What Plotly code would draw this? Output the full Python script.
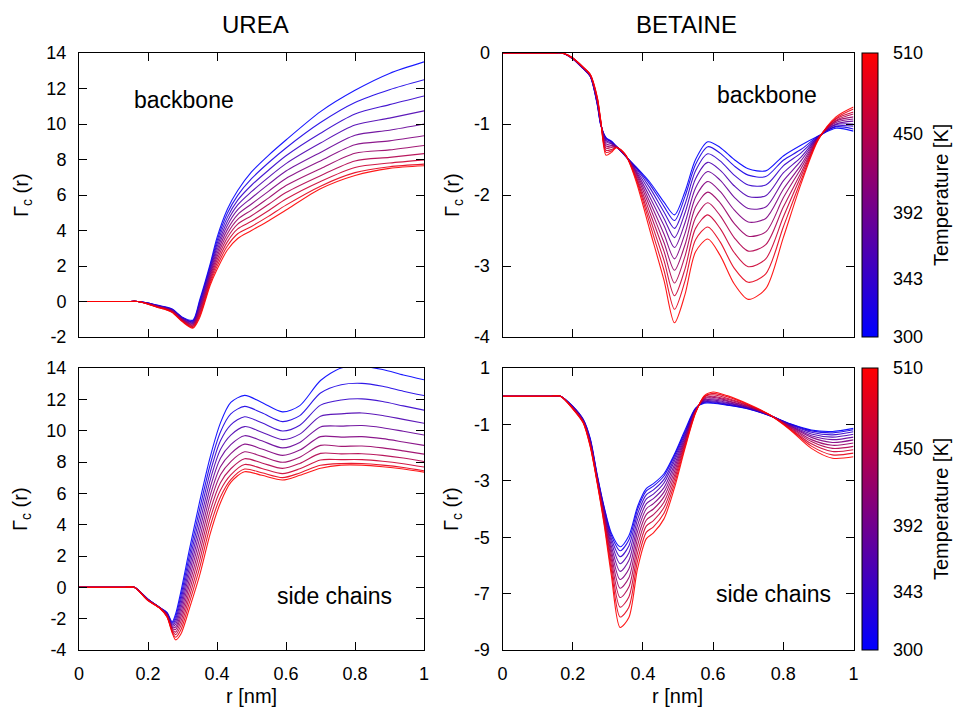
import plotly.graph_objects as go

# Temperatures of the plotted replicas [K]
TEMPS = [300, 321, 342, 363, 384, 405, 426, 447, 468, 489, 510]

# ---------------- UREA, backbone (rows: r value, columns: TEMPS) ----------------
UREA_BB_R = [0, 0.08, 0.14, 0.17, 0.2, 0.23, 0.25, 0.27, 0.3, 0.33, 0.35, 0.38, 0.4, 0.43, 0.46,
             0.5, 0.55, 0.6, 0.7, 0.8, 0.9, 1.0]
UREA_BB = [
    [0] * 11,
    [0] * 11,
    [0] * 11,
    [0] * 11,
    [-0.08, -0.09, -0.09, -0.10, -0.11, -0.12, -0.12, -0.13, -0.14, -0.14, -0.15],
    [-0.22, -0.23, -0.25, -0.26, -0.27, -0.29, -0.30, -0.31, -0.32, -0.34, -0.35],
    [-0.30, -0.32, -0.33, -0.35, -0.36, -0.38, -0.39, -0.41, -0.42, -0.44, -0.45],
    [-0.42, -0.44, -0.46, -0.48, -0.50, -0.52, -0.54, -0.56, -0.58, -0.60, -0.62],
    [-0.88, -0.91, -0.93, -0.96, -0.99, -1.02, -1.04, -1.07, -1.10, -1.12, -1.15],
    [-1.05, -1.10, -1.14, -1.19, -1.23, -1.28, -1.32, -1.37, -1.41, -1.46, -1.50],
    [0.10, 0.00, -0.10, -0.20, -0.30, -0.40, -0.50, -0.60, -0.70, -0.80, -0.90],
    [2.10, 1.98, 1.86, 1.74, 1.62, 1.50, 1.38, 1.26, 1.14, 1.02, 0.90],
    [3.60, 3.42, 3.24, 3.06, 2.88, 2.70, 2.52, 2.34, 2.16, 1.98, 1.80],
    [5.20, 4.97, 4.74, 4.51, 4.28, 4.05, 3.82, 3.59, 3.36, 3.13, 2.90],
    [6.25, 5.98, 5.71, 5.44, 5.17, 4.90, 4.63, 4.36, 4.09, 3.82, 3.55],
    [7.30, 6.92, 6.55, 6.19, 5.83, 5.49, 5.15, 4.83, 4.52, 4.23, 4.00],
    [8.25, 7.83, 7.41, 7.01, 6.61, 6.22, 5.84, 5.48, 5.13, 4.81, 4.55],
    [9.10, 8.65, 8.21, 7.77, 7.35, 6.93, 6.53, 6.14, 5.77, 5.43, 5.15],
    [10.70, 10.08, 9.48, 8.93, 8.40, 7.92, 7.48, 7.09, 6.76, 6.50, 6.35],
    [11.90, 11.21, 10.56, 9.94, 9.37, 8.83, 8.35, 7.92, 7.55, 7.26, 7.10],
    [12.85, 11.93, 11.09, 10.33, 9.65, 9.05, 8.54, 8.12, 7.80, 7.59, 7.50],
    [13.50, 12.49, 11.58, 10.74, 10.00, 9.34, 8.79, 8.33, 7.98, 7.74, 7.65],
]

# ---------------- BETAINE, backbone ----------------
BET_BB_R = [0, 0.08, 0.14, 0.17, 0.2, 0.23, 0.25, 0.27, 0.28, 0.295, 0.31, 0.325, 0.35, 0.38,
            0.42, 0.46, 0.49, 0.52, 0.55, 0.585, 0.62, 0.66, 0.70, 0.75, 0.80, 0.85, 0.90,
            0.95, 1.0]
BET_BB = [
    [0] * 11,
    [0] * 11,
    [0] * 11,
    [0] * 11,
    [-0.08, -0.08, -0.08, -0.08, -0.08, -0.08, -0.07, -0.07, -0.07, -0.07, -0.07],
    [-0.22, -0.22, -0.22, -0.21, -0.21, -0.21, -0.21, -0.21, -0.20, -0.20, -0.20],
    [-0.33, -0.33, -0.32, -0.32, -0.32, -0.32, -0.31, -0.31, -0.31, -0.30, -0.30],
    [-0.73, -0.72, -0.71, -0.70, -0.69, -0.68, -0.67, -0.65, -0.64, -0.63, -0.62],
    [-1.02, -1.01, -1.01, -1.00, -0.99, -0.99, -0.98, -0.97, -0.97, -0.96, -0.95],
    [-1.19, -1.20, -1.21, -1.23, -1.25, -1.28, -1.31, -1.34, -1.37, -1.40, -1.44],
    [-1.24, -1.25, -1.25, -1.27, -1.28, -1.30, -1.31, -1.33, -1.36, -1.38, -1.40],
    [-1.32, -1.32, -1.32, -1.32, -1.32, -1.32, -1.33, -1.33, -1.33, -1.33, -1.33],
    [-1.45, -1.45, -1.45, -1.45, -1.44, -1.44, -1.44, -1.44, -1.43, -1.43, -1.43],
    [-1.60, -1.61, -1.62, -1.64, -1.66, -1.68, -1.70, -1.73, -1.75, -1.77, -1.80],
    [-1.82, -1.85, -1.90, -1.96, -2.03, -2.10, -2.17, -2.25, -2.33, -2.41, -2.50],
    [-2.10, -2.16, -2.24, -2.33, -2.43, -2.55, -2.67, -2.79, -2.92, -3.06, -3.20],
    [-2.28, -2.36, -2.47, -2.60, -2.74, -2.90, -3.06, -3.24, -3.42, -3.61, -3.80],
    [-1.95, -2.02, -2.13, -2.25, -2.39, -2.54, -2.70, -2.86, -3.04, -3.21, -3.40],
    [-1.50, -1.57, -1.66, -1.77, -1.90, -2.03, -2.17, -2.32, -2.47, -2.63, -2.80],
    [-1.25, -1.32, -1.42, -1.54, -1.67, -1.81, -1.96, -2.11, -2.28, -2.45, -2.62],
    [-1.33, -1.41, -1.52, -1.65, -1.79, -1.95, -2.11, -2.29, -2.47, -2.66, -2.85],
    [-1.50, -1.59, -1.72, -1.87, -2.03, -2.21, -2.40, -2.60, -2.81, -3.03, -3.25],
    [-1.63, -1.72, -1.86, -2.02, -2.19, -2.38, -2.58, -2.79, -3.01, -3.23, -3.47],
    [-1.66, -1.74, -1.86, -2.01, -2.17, -2.33, -2.52, -2.70, -2.90, -3.11, -3.32],
    [-1.45, -1.51, -1.59, -1.69, -1.80, -1.92, -2.04, -2.17, -2.31, -2.45, -2.60],
    [-1.30, -1.36, -1.41, -1.47, -1.52, -1.58, -1.63, -1.69, -1.74, -1.80, -1.85],
    [-1.17, -1.17, -1.18, -1.18, -1.19, -1.19, -1.20, -1.20, -1.21, -1.21, -1.22],
    [-1.06, -1.04, -1.03, -1.01, -1.00, -0.98, -0.96, -0.95, -0.93, -0.92, -0.90],
    [-1.10, -1.07, -1.03, -1.00, -0.96, -0.93, -0.90, -0.86, -0.83, -0.79, -0.76],
]

# ---------------- UREA, side chains ----------------
UREA_SC_R = [0, 0.08, 0.13, 0.16, 0.2, 0.235, 0.255, 0.27, 0.28, 0.295, 0.32, 0.35, 0.38, 0.41,
             0.44, 0.48, 0.53, 0.59, 0.64, 0.70, 0.76, 0.82, 0.88, 0.94, 1.0]
UREA_SC = [
    [0] * 11,
    [0] * 11,
    [0] * 11,
    [0] * 11,
    [-0.75, -0.76, -0.77, -0.78, -0.79, -0.80, -0.81, -0.82, -0.83, -0.84, -0.85],
    [-1.30, -1.30, -1.31, -1.31, -1.32, -1.32, -1.33, -1.33, -1.34, -1.34, -1.35],
    [-1.60, -1.63, -1.66, -1.69, -1.72, -1.75, -1.78, -1.81, -1.84, -1.87, -1.90],
    [-2.20, -2.27, -2.34, -2.41, -2.48, -2.55, -2.62, -2.69, -2.76, -2.83, -2.90],
    [-1.70, -1.87, -2.03, -2.20, -2.36, -2.53, -2.69, -2.86, -3.02, -3.19, -3.35],
    [-0.30, -0.57, -0.84, -1.11, -1.38, -1.65, -1.92, -2.19, -2.46, -2.73, -3.00],
    [2.40, 2.03, 1.65, 1.28, 0.90, 0.53, 0.15, -0.23, -0.60, -0.98, -1.35],
    [5.50, 5.03, 4.56, 4.09, 3.62, 3.15, 2.68, 2.21, 1.74, 1.27, 0.80],
    [8.30, 7.81, 7.32, 6.83, 6.34, 5.85, 5.36, 4.87, 4.38, 3.89, 3.40],
    [10.50, 9.92, 9.35, 8.79, 8.24, 7.70, 7.18, 6.68, 6.20, 5.76, 5.40],
    [11.80, 11.07, 10.37, 9.72, 9.11, 8.54, 8.03, 7.57, 7.18, 6.87, 6.70],
    [12.25, 11.55, 10.89, 10.26, 9.68, 9.14, 8.65, 8.21, 7.84, 7.55, 7.38],
    [11.80, 11.14, 10.50, 9.90, 9.35, 8.83, 8.36, 7.94, 7.59, 7.31, 7.15],
    [11.20, 10.58, 9.98, 9.43, 8.90, 8.42, 7.98, 7.59, 7.26, 7.00, 6.85],
    [11.60, 10.96, 10.35, 9.78, 9.25, 8.76, 8.31, 7.91, 7.57, 7.30, 7.15],
    [13.20, 12.40, 11.63, 10.92, 10.24, 9.62, 9.06, 8.55, 8.13, 7.79, 7.60],
    [14.00, 12.93, 11.96, 11.07, 10.29, 9.59, 9.00, 8.52, 8.15, 7.90, 7.80],
    [14.10, 13.02, 12.03, 11.13, 10.33, 9.62, 9.02, 8.53, 8.15, 7.90, 7.80],
    [13.90, 12.83, 11.86, 10.97, 10.19, 9.49, 8.90, 8.42, 8.05, 7.80, 7.70],
    [13.55, 12.52, 11.58, 10.72, 9.96, 9.28, 8.71, 8.25, 7.89, 7.65, 7.55],
    [13.25, 12.24, 11.31, 10.47, 9.72, 9.06, 8.50, 8.03, 7.68, 7.44, 7.35],
]

# ---------------- BETAINE, side chains ----------------
BET_SC_R = [0, 0.08, 0.135, 0.165, 0.2, 0.23, 0.25, 0.27, 0.29, 0.31, 0.335, 0.36, 0.385, 0.41,
            0.43, 0.46, 0.49, 0.52, 0.55, 0.575, 0.60, 0.64, 0.70, 0.76, 0.82, 0.88, 0.94, 1.0]
BET_SC = [
    [0] * 11,
    [0] * 11,
    [0] * 11,
    [0] * 11,
    [-0.35, -0.36, -0.37, -0.38, -0.39, -0.40, -0.41, -0.42, -0.43, -0.44, -0.45],
    [-0.82, -0.83, -0.85, -0.86, -0.87, -0.89, -0.90, -0.91, -0.92, -0.94, -0.95],
    [-1.50, -1.53, -1.56, -1.59, -1.62, -1.65, -1.68, -1.71, -1.74, -1.77, -1.80],
    [-2.80, -2.83, -2.86, -2.89, -2.92, -2.95, -2.98, -3.01, -3.04, -3.07, -3.10],
    [-3.95, -3.98, -4.03, -4.09, -4.15, -4.21, -4.29, -4.36, -4.44, -4.52, -4.60],
    [-4.85, -4.93, -5.04, -5.16, -5.31, -5.46, -5.62, -5.79, -5.97, -6.16, -6.35],
    [-5.34, -5.48, -5.69, -5.94, -6.21, -6.50, -6.81, -7.14, -7.48, -7.83, -8.20],
    [-4.95, -5.10, -5.31, -5.56, -5.83, -6.13, -6.44, -6.77, -7.12, -7.48, -7.85],
    [-3.90, -4.01, -4.17, -4.36, -4.57, -4.79, -5.03, -5.28, -5.55, -5.82, -6.10],
    [-3.27, -3.36, -3.49, -3.64, -3.81, -3.99, -4.19, -4.39, -4.60, -4.82, -5.05],
    [-3.10, -3.19, -3.32, -3.47, -3.63, -3.81, -4.00, -4.20, -4.41, -4.63, -4.85],
    [-2.75, -2.83, -2.95, -3.08, -3.24, -3.40, -3.57, -3.76, -3.95, -4.15, -4.35],
    [-2.05, -2.11, -2.20, -2.30, -2.42, -2.54, -2.67, -2.81, -2.95, -3.10, -3.25],
    [-1.20, -1.27, -1.33, -1.40, -1.46, -1.53, -1.59, -1.66, -1.72, -1.79, -1.85],
    [-0.42, -0.44, -0.46, -0.47, -0.49, -0.51, -0.53, -0.55, -0.56, -0.58, -0.60],
    [-0.25, -0.22, -0.20, -0.17, -0.14, -0.12, -0.09, -0.06, -0.03, -0.01, 0.02],
    [-0.25, -0.23, -0.20, -0.17, -0.13, -0.09, -0.04, 0.00, 0.05, 0.10, 0.15],
    [-0.32, -0.30, -0.28, -0.25, -0.22, -0.18, -0.15, -0.11, -0.07, -0.02, 0.02],
    [-0.45, -0.44, -0.43, -0.41, -0.40, -0.38, -0.36, -0.34, -0.32, -0.30, -0.28],
    [-0.68, -0.68, -0.68, -0.67, -0.67, -0.67, -0.66, -0.66, -0.66, -0.65, -0.65],
    [-0.98, -0.99, -1.01, -1.03, -1.05, -1.07, -1.09, -1.12, -1.15, -1.17, -1.20],
    [-1.20, -1.23, -1.28, -1.34, -1.40, -1.46, -1.54, -1.61, -1.69, -1.77, -1.85],
    [-1.25, -1.30, -1.37, -1.45, -1.54, -1.64, -1.74, -1.85, -1.96, -2.08, -2.20],
    [-1.14, -1.19, -1.26, -1.35, -1.45, -1.55, -1.66, -1.78, -1.90, -2.02, -2.15],
]

# tick labels
X_TICKS = [0, 0.2, 0.4, 0.6, 0.8, 1]
X_TICKTEXT = ["0", "0.2", "0.4", "0.6", "0.8", "1"]
Y_TICKS_UREA_BB = [-2, 0, 2, 4, 6, 8, 10, 12, 14]
Y_TICKS_BET_BB = [-4, -3, -2, -1, 0]
Y_TICKS_UREA_SC = [-4, -2, 0, 2, 4, 6, 8, 10, 12, 14]
Y_TICKS_BET_SC = [-9, -7, -5, -3, -1, 1]
CBAR_TICKS = [300, 343, 392, 450, 510]

FONT = "Liberation Sans, Arial, sans-serif"
W, H = 955, 711
T_MIN, T_MAX = 300, 510
COLORSCALE = [[0, "rgb(0,0,255)"], [1, "rgb(255,0,0)"]]


def tcolor(t):
    f = (t - T_MIN) / (T_MAX - T_MIN)
    return "rgb(%d,0,%d)" % (round(255 * f), round(255 * (1 - f)))


def lab(v):
    return "%g" % v


fig = go.Figure()
panels = [
    (UREA_BB_R, UREA_BB, "x", "y"),
    (BET_BB_R, BET_BB, "x2", "y2"),
    (UREA_SC_R, UREA_SC, "x3", "y3"),
    (BET_SC_R, BET_SC, "x4", "y4"),
]
for rr, rows, xa, ya in panels:
    for j, t in enumerate(TEMPS):
        fig.add_trace(go.Scatter(
            x=rr, y=[row[j] for row in rows], mode="lines",
            line=dict(color=tcolor(t), width=1.1, shape="spline", smoothing=0.8),
            opacity=0.9, xaxis=xa, yaxis=ya, showlegend=False, hoverinfo="skip"))

CB_X0, CB_THICK = 862, 16
shapes = []
annotations = []


def ann(text, px, py, size, angle=0, xanchor="center"):
    annotations.append(dict(text=text, x=px / W, y=1 - py / H, xref="paper", yref="paper",
                            xanchor=xanchor, yanchor="middle", showarrow=False,
                            textangle=angle, font=dict(family=FONT, size=size, color="black")))


# colour bars (one per row)
for ya, xa, top, bot in [("y2", "x2", 53, 337), ("y4", "x4", 368, 650)]:
    yc = 1 - (top + bot) / 2 / H
    ln = (bot - top) / H
    fig.add_trace(go.Scatter(
        x=[None], y=[None], mode="markers", xaxis=xa, yaxis=ya, showlegend=False,
        marker=dict(color=[T_MIN], cmin=T_MIN, cmax=T_MAX, colorscale=COLORSCALE,
                    showscale=True,
                    colorbar=dict(
                        x=CB_X0 / W, xanchor="left", y=yc, yanchor="middle",
                        len=ln, lenmode="fraction", thickness=CB_THICK,
                        thicknessmode="pixels",
                        xpad=0, ypad=0, outlinewidth=1, outlinecolor="black",
                        tickvals=CBAR_TICKS, ticks="", showticklabels=False,
                    ))))
    # tick lines across the colour bar and their labels
    for t in CBAR_TICKS:
        py = bot - (t - T_MIN) / (T_MAX - T_MIN) * (bot - top)
        if T_MIN < t < T_MAX:
            shapes.append(dict(type="line", xref="paper", yref="paper",
                               x0=CB_X0 / W, x1=(CB_X0 + CB_THICK) / W,
                               y0=1 - py / H, y1=1 - py / H,
                               line=dict(color="black", width=1)))
        ann(str(t), 891, py, 18, xanchor="left")
    ann("Temperature [K]", 941, (top + bot) / 2, 20, -90)

axis_common = dict(showline=True, linecolor="black", linewidth=1, mirror="ticks",
                   ticks="inside", ticklen=8, tickcolor="black", tickwidth=1,
                   showgrid=False, zeroline=False,
                   tickfont=dict(family=FONT, size=18, color="black"))

xl = [79 / W, 424 / W]
xr = [502.5 / W, 853.5 / W]
yt = [1 - 337 / H, 1 - 53 / H]
yb = [1 - 650 / H, 1 - 368 / H]


def xaxis(dom, anchor, labels):
    return dict(axis_common, domain=dom, anchor=anchor, range=[0, 1],
                tickvals=X_TICKS, ticktext=X_TICKTEXT, showticklabels=labels,
                ticklabelstandoff=7)


def yaxis(dom, anchor, rng, ticks):
    return dict(axis_common, domain=dom, anchor=anchor, range=rng,
                tickvals=ticks, ticktext=[lab(v) for v in ticks], ticklabelstandoff=8)


ann("UREA", 255, 25, 24)
ann("BETAINE", 686, 25, 24)
ann("backbone", 184, 100, 23)
ann("backbone", 767, 95, 23)
ann("side chains", 334, 596, 23)
ann("side chains", 773, 594, 23)
ann("r [nm]", 251, 696, 20)
ann("r [nm]", 677, 696, 20)
for px, py in [(22, 195), (453, 195), (22, 509), (453, 509)]:
    ann("\u0393<sub>c</sub> (r)", px, py, 20, -90)

fig.update_layout(
    width=W, height=H, margin=dict(l=0, r=0, t=0, b=0, autoexpand=False),
    paper_bgcolor="white", plot_bgcolor="white",
    xaxis=xaxis(xl, "y", False), yaxis=yaxis(yt, "x", [-2, 14], Y_TICKS_UREA_BB),
    xaxis2=xaxis(xr, "y2", False), yaxis2=yaxis(yt, "x2", [-4, 0], Y_TICKS_BET_BB),
    xaxis3=xaxis(xl, "y3", True), yaxis3=yaxis(yb, "x3", [-4, 14], Y_TICKS_UREA_SC),
    xaxis4=xaxis(xr, "y4", True), yaxis4=yaxis(yb, "x4", [-9, 1], Y_TICKS_BET_SC),
    annotations=annotations, shapes=shapes, showlegend=False,
)

fig.write_html("out.html")
